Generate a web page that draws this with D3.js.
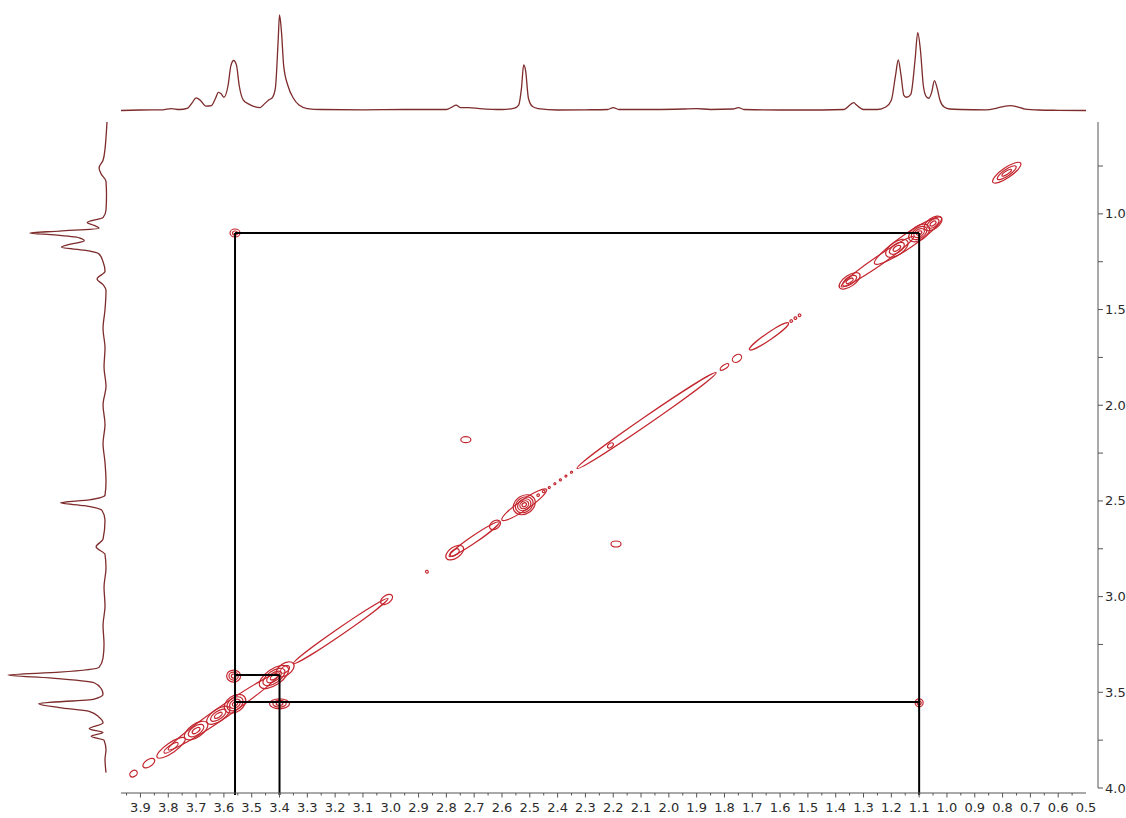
<!DOCTYPE html>
<html>
<head>
<meta charset="utf-8">
<script src="https://cdnjs.cloudflare.com/ajax/libs/d3/7.8.5/d3.min.js"></script>
<style>
  body { margin: 0; background: #fff; }
  .tick text { font-family: "DejaVu Sans", Verdana, sans-serif; font-size: 13px; fill: #2b2b2b; }
  .axis path, .axis line { stroke: #555; }
</style>
</head>
<body>
<div id="chart"></div>
<script>
// ---------- data (ppm) ----------
// top 1D trace: ppm and height (0..100 = tallest peak)
var topPpm = [3.97,3.90,3.82,3.79,3.76,3.73,3.715,3.70,3.685,3.665,3.645,3.63,3.62,3.61,3.60,3.585,3.575,3.565,3.555,3.545,3.53,3.51,3.49,3.47,3.455,3.44,3.425,3.415,3.405,3.40,3.393,3.385,3.37,3.35,3.33,3.30,3.25,3.10,2.95,2.80,2.78,2.765,2.75,2.72,2.68,2.60,2.555,2.54,2.53,2.522,2.515,2.505,2.49,2.47,2.40,2.30,2.22,2.20,2.18,2.05,1.95,1.90,1.85,1.77,1.75,1.73,1.60,1.45,1.37,1.345,1.335,1.325,1.30,1.25,1.22,1.20,1.185,1.175,1.165,1.155,1.145,1.13,1.115,1.105,1.095,1.085,1.075,1.065,1.055,1.045,1.035,1.025,1.01,0.99,0.95,0.86,0.82,0.79,0.77,0.75,0.72,0.67,0.60,0.50];
var topInt = [-0.5,0,0.2,1.5,0.5,2,7,12.3,10,4,4.5,12,18,16.5,13,25,45,50.5,46,25,10,6,3.5,2.5,6,10,13,22,70,97,80,45,25,12,5,1.5,0.5,0.2,0.5,0.5,3,5,2.5,2.5,1.5,0.5,2,5,22,46,40,12,3.5,1.5,0,0.2,0.5,2.5,0.5,0.5,1,1.5,0.5,1,2.5,0.5,0,0,0.5,6,7.5,5,0.5,0.5,3,10,35,51,35,15,13,16,50,79,60,25,14,12,18,30,22,10,3,1,0.5,0.2,2,4,4.5,3.5,1,0,-0.3,-0.5];

// left 1D trace: ppm and height (0..100)
var leftPpm = [0.52,0.60,0.66,0.72,0.76,0.79,0.83,0.90,0.98,1.02,1.045,1.06,1.075,1.09,1.10,1.11,1.125,1.14,1.16,1.175,1.19,1.21,1.25,1.30,1.34,1.37,1.40,1.50,1.60,1.70,1.80,1.90,2.00,2.10,2.20,2.30,2.40,2.47,2.495,2.51,2.525,2.55,2.60,2.70,2.74,2.78,2.85,2.95,3.05,3.15,3.25,3.32,3.37,3.395,3.41,3.425,3.45,3.48,3.51,3.535,3.56,3.58,3.60,3.63,3.66,3.69,3.71,3.73,3.75,3.80,3.85,3.92];
var leftInt = [0,1,2,4,8,6,1,0.5,1,4,20,13,8,48,78,53,28,23,38,46,23,8,4,2,10,4,1,2,4,2,3,1,4,2,4,2,1,2,18,47,23,5,2,4,11,2,1,3,2,4,3,4,8,48,100,58,13,6,4,13,69,48,18,8,4,18,4,16,3,1,2,1];

// diagonal peaks: centre ppm, half length along diagonal (ppm), half width (px), contour rings
var diagCenter = [3.925,3.87,3.79,3.60,3.70,3.62,3.56,3.42,3.38,3.18,3.015,2.87,2.77,2.70,2.625,2.52,2.52,2.47,2.45,2.43,2.41,2.39,2.37,2.35,2.08,2.21,1.80,1.755,1.64,1.56,1.545,1.53,1.25,1.35,1.14,1.18,1.10,1.05,0.785];
var diagHalfLen = [0.012,0.02,0.05,0.2,0.04,0.04,0.035,0.05,0.03,0.17,0.02,0.004,0.03,0.09,0.018,0.035,0.08,0.004,0.004,0.003,0.003,0.003,0.003,0.003,0.25,0.01,0.015,0.015,0.07,0.004,0.004,0.004,0.13,0.036,0.12,0.038,0.035,0.03,0.05];
var diagHalfWid = [3,3.5,5,6,6.5,6,8,8,6,3.5,4,1.5,5.5,3.5,4,9,5,1.2,1.2,1,1,1,1,1,4,2,2,3.5,3.5,1.3,1.3,1.3,4.5,5.5,7,6.5,7,5.5,5];
var diagRings = [1,1,2,1,3,3,4,4,2,1,1,1,2,1,1,5,1,1,1,1,1,1,1,1,1,1,1,1,1,1,1,1,1,3,1,3,4,3,3];

// cross peaks: x ppm, y ppm, rx (px), ry (px), rings
var crossX = [3.56,1.10,3.565,3.40,2.73,2.19];
var crossY = [1.10,3.555,3.415,3.56,2.18,2.725];
var crossRx = [5,4,7,10,5,5];
var crossRy = [4,4,6,5,3,3];
var crossRings = [2,2,3,3,1,1];

// connection lines (ppm): x1, y1, x2, y2 (y2 = null -> down to the axis)
var boxX1 = [3.56,3.56,3.56,3.56,3.40,1.10];
var boxY1 = [1.10,3.55,3.41,1.10,3.41,1.10];
var boxX2 = [1.10,1.10,3.40,3.56,3.40,1.10];
var boxY2 = [1.10,3.55,3.41,null,null,null];

// axis ticks
var xTicks = d3.range(39, 4, -1).map(function(d) { return d / 10; });
var yTicks = [1.0, 1.5, 2.0, 2.5, 3.0, 3.5, 4.0];

// ---------- layout ----------
var W = 1126, H = 818;
var svg = d3.select("#chart").append("svg").attr("width", W).attr("height", H);

var x = d3.scaleLinear().domain([3.97, 0.5]).range([121, 1086]);
var y = d3.scaleLinear().domain([0.52, 4.0]).range([122, 788]);
var axisY = 793;   // bottom axis line
var axisX = 1098;  // right axis line

var traceColor = "#7d2b2b", contourColor = "#c4262e";

// top trace
var topH = d3.scaleLinear().domain([0, 100]).range([110, 12]);
svg.append("path")
  .datum(topPpm.map(function(p, i) { return [p, topInt[i]]; }))
  .attr("fill", "none").attr("stroke", traceColor).attr("stroke-width", 1.3)
  .attr("d", d3.line().x(function(d) { return x(d[0]); }).y(function(d) { return topH(d[1]); }).curve(d3.curveMonotoneX));

// left trace
var leftH = d3.scaleLinear().domain([0, 100]).range([107, 8]);
svg.append("path")
  .datum(leftPpm.map(function(p, i) { return [p, leftInt[i]]; }))
  .attr("fill", "none").attr("stroke", traceColor).attr("stroke-width", 1.3)
  .attr("d", d3.line().x(function(d) { return leftH(d[1]); }).y(function(d) { return y(d[0]); }).curve(d3.curveMonotoneY));

// ---------- contours ----------
var g = svg.append("g").attr("fill", "none").attr("stroke", contourColor).attr("stroke-width", 1.2);
var dxp = x(1) - x(0), dyp = y(1) - y(0);
var angle = Math.atan2(dyp, dxp) * 180 / Math.PI;
var diagPx = Math.sqrt(dxp * dxp + dyp * dyp);

diagCenter.forEach(function(c, i) {
  var n = diagRings[i];
  for (var k = 0; k < n; k++) {
    var f = (n - k) / n;
    g.append("ellipse")
      .attr("transform", "translate(" + x(c) + "," + y(c) + ") rotate(" + angle + ")")
      .attr("rx", Math.max(diagHalfLen[i] * diagPx * f, 0.8))
      .attr("ry", Math.max(diagHalfWid[i] * f, 0.8));
  }
});

crossX.forEach(function(cx, i) {
  var n = crossRings[i];
  for (var k = 0; k < n; k++) {
    var f = (n - k) / n;
    g.append("ellipse")
      .attr("cx", x(cx)).attr("cy", y(crossY[i]))
      .attr("rx", Math.max(crossRx[i] * f, 1)).attr("ry", Math.max(crossRy[i] * f, 1));
  }
});

// ---------- connection lines ----------
boxX1.forEach(function(x1, i) {
  svg.append("line")
    .attr("x1", x(x1)).attr("y1", y(boxY1[i]))
    .attr("x2", x(boxX2[i])).attr("y2", boxY2[i] === null ? axisY + 2 : y(boxY2[i]))
    .attr("stroke", "#000").attr("stroke-width", 2);
});

// ---------- axes ----------
var xAxis = svg.append("g").attr("class", "axis")
  .attr("transform", "translate(0," + axisY + ")");
xAxis.append("line").attr("x1", x.range()[0]).attr("x2", x.range()[1]).attr("stroke", "#555");
xAxis.selectAll(".minor").data(d3.range(395, 50, -5).map(function(d) { return d / 100; }))
  .enter().append("line")
  .attr("x1", function(d) { return x(d); }).attr("x2", function(d) { return x(d); })
  .attr("y1", 0).attr("y2", function(d, i) { return i % 2 === 0 ? 2.5 : 4.5; })
  .attr("stroke", "#555");
xAxis.selectAll(".tick").data(xTicks).enter().append("g").attr("class", "tick")
  .append("text")
  .attr("x", function(d) { return x(d); }).attr("y", 19)
  .attr("text-anchor", "middle")
  .text(function(d) { return d.toFixed(1); });

var yAxis = svg.append("g").attr("class", "axis")
  .attr("transform", "translate(" + axisX + ",0)");
yAxis.append("line").attr("y1", y.range()[0]).attr("y2", y.range()[1]).attr("stroke", "#555");
yAxis.selectAll(".minor").data(d3.range(75, 401, 25).map(function(d) { return d / 100; }))
  .enter().append("line")
  .attr("y1", function(d) { return y(d); }).attr("y2", function(d) { return y(d); })
  .attr("x1", 0).attr("x2", 5)
  .attr("stroke", "#555");
yAxis.selectAll(".tick").data(yTicks).enter().append("g").attr("class", "tick")
  .append("text")
  .attr("x", 7).attr("y", function(d) { return y(d); }).attr("dy", "0.35em")
  .text(function(d) { return d.toFixed(1); });
</script>
</body>
</html>
